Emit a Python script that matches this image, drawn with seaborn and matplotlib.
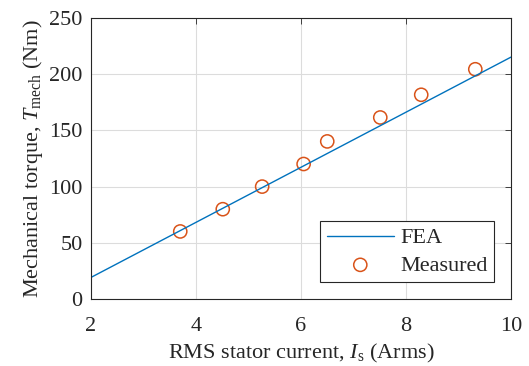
import matplotlib
matplotlib.use("Agg")
import matplotlib.pyplot as plt
import seaborn as sns
import pandas as pd

fea_current = [2, 3, 4, 5, 6, 7, 8, 9, 10]
fea_torque = [19.2, 43.7, 68.2, 92.7, 117.2, 141.7, 166.2, 190.7, 215.2]
meas_current = [3.70, 4.51, 5.26, 6.05, 6.50, 7.51, 8.29, 9.32]
meas_torque = [60.1, 79.9, 100.0, 120.1, 140.2, 161.5, 181.7, 204.4]
xticks = [2, 4, 6, 8, 10]
yticks = [0, 50, 100, 150, 200, 250]

sns.set_style("white")
plt.rcParams['font.family'] = ['Liberation Serif', 'DejaVu Serif']
plt.rcParams['mathtext.fontset'] = 'custom'
plt.rcParams['mathtext.rm'] = 'Liberation Serif'
plt.rcParams['mathtext.it'] = 'Liberation Serif:italic'

fea = pd.DataFrame({"x": fea_current, "y": fea_torque})
meas = pd.DataFrame({"x": meas_current, "y": meas_torque})

fig = plt.figure(figsize=(5.29, 3.66), dpi=100)
ax = fig.add_axes([91/529, 1-299/366, 420/529, 281/366])

sns.lineplot(data=fea, x="x", y="y", ax=ax, color="#0072BD", lw=1.0, label="FEA")
sns.scatterplot(data=meas, x="x", y="y", ax=ax, marker="o", s=90,
                facecolor="none", edgecolor="#D95319", linewidth=1.1, label="Measured")

ax.set_xlim(2, 10)
ax.set_ylim(0, 250)
ax.set_xticks(xticks)
ax.set_yticks(yticks)
ax.grid(True, color="#dcdcdc", lw=0.8)
ax.set_axisbelow(True)
for s in ax.spines.values():
    s.set_color("#262626")
    s.set_linewidth(0.8)
ax.tick_params(direction="in", length=4, width=0.6, top=True, right=True,
               labelsize=16, colors="#262626")
ax.tick_params(axis="x", pad=13)
ax.tick_params(axis="y", pad=6)
ax.set_xlabel(r"RMS stator current, $I_\mathrm{s}$ (Arms)", fontsize=16, labelpad=4)
ax.set_ylabel(r"Mechanical torque, $T_\mathrm{mech}$ (Nm)", fontsize=16, labelpad=3)

leg = ax.legend(loc="lower right", fontsize=16, frameon=True, fancybox=False,
                edgecolor="#262626", framealpha=1, borderpad=0.3,
                handlelength=3.0, handletextpad=0.3, labelspacing=0.3,
                borderaxespad=0.75)
leg.get_frame().set_linewidth(0.8)

fig.savefig("out.png", dpi=100)
